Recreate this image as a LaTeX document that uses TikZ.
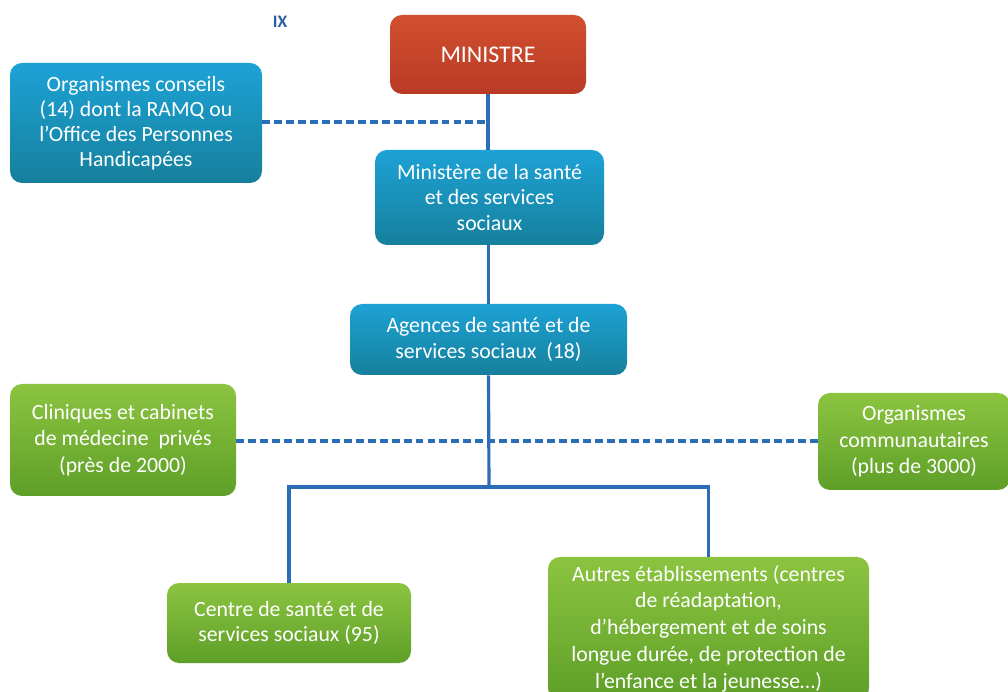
\documentclass[tikz,border=0pt]{standalone}
\usepackage{fontspec}
\setmainfont{Carlito}
\definecolor{redtop}{HTML}{D2502F}
\definecolor{redbot}{HTML}{B93A26}
\definecolor{bluetop}{HTML}{1DA2D6}
\definecolor{bluebot}{HTML}{16809C}
\definecolor{greentop}{HTML}{8CC440}
\definecolor{greenbot}{HTML}{5E9F28}
\definecolor{linecol}{HTML}{2C6DB8}
\definecolor{ixcol}{HTML}{2A5FA0}
\tikzset{
  px/.style={x=0.02cm,y=-0.02cm},
  box/.style={rounded corners=0.24cm, text=white, align=center, inner sep=0pt,
    font=\fontsize{12.4}{14.3}\selectfont},
  redbox/.style={box, top color=redtop, bottom color=redbot},
  bluebox/.style={box, top color=bluetop, bottom color=bluebot},
  greenbox/.style={box, top color=greentop, bottom color=greenbot, font=\fontsize{12.4}{15.2}\selectfont},
  conn/.style={draw=linecol, line width=1.8pt},
  dconn/.style={draw=linecol, line width=1.8pt, dash pattern=on 4.5pt off 2.3pt},
}
\begin{document}
\begin{tikzpicture}[px]
\clip (0,0) rectangle (1008,692);
\fill[white] (0,0) rectangle (1008,692);
\node[font=\fontsize{10}{11}\selectfont\bfseries, text=ixcol] (ix) at (280,22) {IX};
\node[redbox, minimum width=196*0.02cm, minimum height=79*0.02cm, font=\fontsize{13.6}{15}\selectfont] (min) at (488,54.5) {MINISTRE};
\node[bluebox, minimum width=252*0.02cm, minimum height=120*0.02cm] (cons) at (136,123) {Organismes conseils\\(14) dont la RAMQ ou\\l’Office des Personnes\\Handicapées};
\node[bluebox, minimum width=229*0.02cm, minimum height=95*0.02cm] (mss) at (489.5,197.5) {Ministère de la santé\\et des services\\sociaux};
\node[bluebox, minimum width=277*0.02cm, minimum height=71*0.02cm] (ag) at (488.5,339.5) {Agences de santé et de\\services sociaux~~(18)};
\node[greenbox, minimum width=226*0.02cm, minimum height=112*0.02cm] (cli) at (123,440) {Cliniques et cabinets\\de médecine~ privés\\(près de 2000)};
\node[greenbox, minimum width=192*0.02cm, minimum height=97*0.02cm] (com) at (914,441.5) {Organismes\\communautaires\\(plus de 3000)};
\node[greenbox, minimum width=244*0.02cm, minimum height=80*0.02cm, font=\fontsize{12.4}{14.3}\selectfont] (csss) at (289,623) {Centre de santé et de\\services sociaux (95)};
\node[greenbox, minimum width=321*0.02cm, minimum height=143*0.02cm] (autres) at (708.5,628.5) {Autres établissements (centres\\de réadaptation,\\d’hébergement et de soins\\longue durée, de protection de\\l’enfance et la jeunesse…)};
\coordinate (j1) at (489,122);
\coordinate (j2) at (489,441);
\coordinate (j3) at (489,487);
\draw[conn] (min.south) -- (mss.north -| min.south);
\draw[dconn] (cons.east |- j1) -- (j1);
\draw[conn] (mss.south -| ag.north) -- (ag.north);
\draw[conn] (ag.south) -- (j3);
\draw[dconn] (cli.east |- j2) -- (com.west |- j2);
\draw[conn] (csss.north) |- (j3) -| (autres.north);
\end{tikzpicture}
\end{document}
